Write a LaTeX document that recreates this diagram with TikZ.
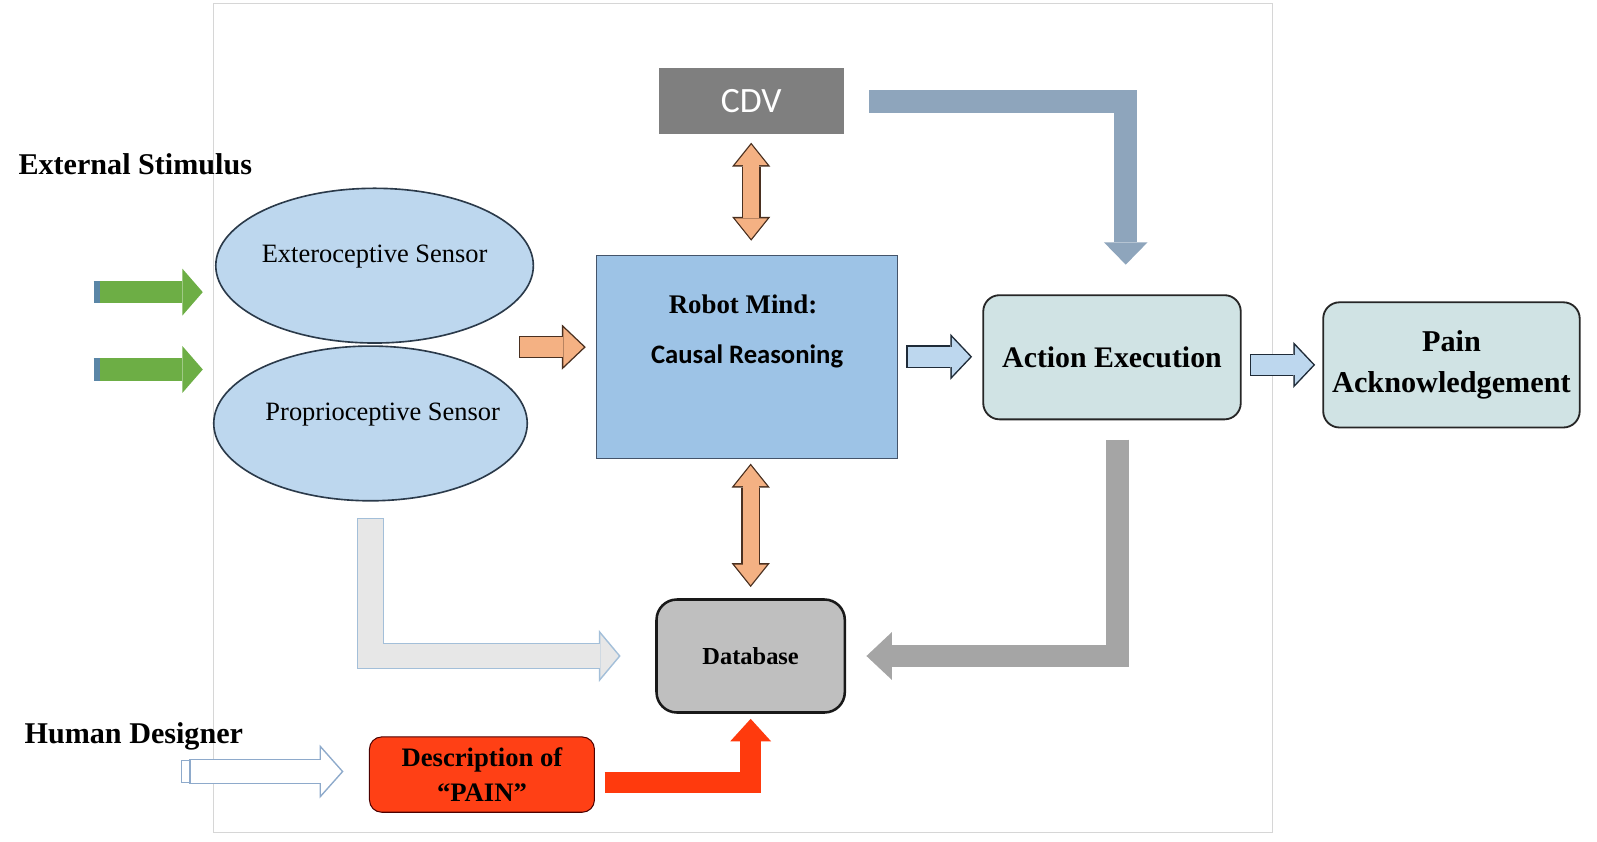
\documentclass[tikz,border=0pt]{standalone}
\usepackage{fontspec}
\setmainfont{Liberation Serif}
\newfontfamily\calibfont{Carlito}
\usetikzlibrary{arrows.meta, shapes.geometric}

\definecolor{sensorfill}{HTML}{BDD7EE}
\definecolor{sensorline}{HTML}{2B3A4A}
\definecolor{mindfill}{HTML}{9DC3E6}
\definecolor{mindline}{HTML}{44546A}
\definecolor{cdvfill}{HTML}{7F7F7F}
\definecolor{actfill}{HTML}{D0E3E4}
\definecolor{dbfill}{HTML}{BFBFBF}
\definecolor{descfill}{HTML}{FF4015}
\definecolor{stimgreen}{HTML}{6DAE45}
\definecolor{capblue}{HTML}{5A86A6}
\definecolor{orfill}{HTML}{F4B183}
\definecolor{orline}{HTML}{4A3020}
\definecolor{smallfill}{HTML}{BDD7EE}
\definecolor{smallline}{HTML}{1F2B38}
\definecolor{cdvarrow}{HTML}{8EA5BC}
\definecolor{grayarrow}{HTML}{A5A5A5}
\definecolor{lightfill}{HTML}{E7E7E7}
\definecolor{lightline}{HTML}{A3BFD9}
\definecolor{hollowline}{HTML}{8EAACB}
\definecolor{redarrow}{HTML}{FF3A0D}
\definecolor{framecol}{HTML}{D6D6D6}

\begin{document}
\begin{tikzpicture}[x=1pt, y=-1pt,
  sensor/.style={ellipse, draw=sensorline, line width=1.6pt, fill=sensorfill, inner sep=0pt},
  sensortext/.style={font=\fontsize{26}{30}\selectfont, inner sep=0pt},
  headtext/.style={font=\bfseries\fontsize{29.6}{34}\selectfont, inner sep=0pt, anchor=base west},
  titletext/.style={font=\bfseries\fontsize{26.4}{30}\selectfont, inner sep=0pt},
  mindbox/.style={rectangle, draw=mindline, line width=1pt, fill=mindfill, minimum width=296pt, minimum height=199pt, inner sep=0pt, font=\calibfont\bfseries\fontsize{26.2}{30}\selectfont},
  cdvbox/.style={rectangle, fill=cdvfill, minimum width=182pt, minimum height=65pt, inner sep=0pt, text=white, font=\calibfont\fontsize{35}{40}\selectfont},
  actbox/.style={rectangle, rounded corners=16pt, draw=black!85, line width=1.8pt, fill=actfill, minimum width=253pt, minimum height=122pt, inner sep=0pt, font=\bfseries\fontsize{29.3}{34}\selectfont},
  dbbox/.style={rectangle, rounded corners=20pt, draw=black!90, line width=2.5pt, fill=dbfill, minimum width=185pt, minimum height=111pt, inner sep=0pt, font=\bfseries\fontsize{24}{28}\selectfont},
  descbox/.style={rectangle, rounded corners=12pt, draw=black!70!red, line width=1pt, fill=descfill, minimum width=221pt, minimum height=74pt, inner sep=0pt, align=center, font=\bfseries\fontsize{26.2}{34}\selectfont},
  greenarr/.style={draw=stimgreen, line width=22pt, -{Triangle[length=20pt, width=46pt, line width=0pt]}},
  orout/.style={draw=orline, line width=22.4pt, -{Triangle[length=23.5pt, width=44.6pt, line width=0pt]}},
  orin/.style={draw=orfill, line width=20pt, -{Triangle[length=20pt, width=38pt, line width=0pt]}},
  dblout/.style={draw=orline, line width=18.4pt, {Triangle[length=23.5pt, width=37.6pt, line width=0pt]}-{Triangle[length=23.5pt, width=37.6pt, line width=0pt]}},
  dblin/.style={draw=orfill, line width=16pt, {Triangle[length=20pt, width=32pt, line width=0pt]}-{Triangle[length=20pt, width=32pt, line width=0pt]}},
  smallout/.style={draw=smallline, line width=22.4pt, -{Triangle[length=21.5pt, width=45.4pt, line width=0pt]}},
  smallin/.style={draw=smallfill, line width=20pt, -{Triangle[length=18pt, width=38pt, line width=0pt]}},
  lightout/.style={draw=lightline, line width=26.4pt, -{Triangle[length=21.5pt, width=51.4pt, line width=0pt]}},
  lightin/.style={draw=lightfill, line width=24pt, -{Triangle[length=18pt, width=43pt, line width=0pt]}},
  hollowout/.style={draw=hollowline, line width=24.4pt, -{Triangle[length=23.5pt, width=52.9pt, line width=0pt]}},
  hollowin/.style={draw=white, line width=22pt, -{Triangle[length=20pt, width=45pt, line width=0pt]}},
  cdvarr/.style={draw=cdvarrow, line width=23pt, -{Triangle[length=22pt, width=43pt, line width=0pt]}},
  grayarr/.style={draw=grayarrow, line width=22pt, -{Triangle[length=25pt, width=47pt, line width=0pt]}},
  redarr/.style={draw=redarrow, line width=21pt, -{Triangle[length=22pt, width=40pt, line width=0pt]}}]
\useasboundingbox (0,0) rectangle (1569,827);
\draw[framecol, line width=1pt] (210,3) rectangle (1250,818);

\node[sensor, minimum width=312pt, minimum height=152pt, label={[sensortext, yshift=9pt]center:Exteroceptive Sensor}] (ext) at (368,261) {};
\node[sensor, minimum width=308pt, minimum height=152pt, label={[sensortext, xshift=12pt, yshift=9pt]center:Proprioceptive Sensor}] (prop) at (364,416) {};
\node[mindbox] (mind) at (734,350.5) {Causal Reasoning};
\node[titletext] (mindtitle) at (730,299) {Robot Mind:};
\node[cdvbox] (cdv) at (738,99.5) {CDV};
\node[actbox] (act) at (1092.5,351) {Action Execution};
\node[actbox, minimum width=252pt, minimum height=123pt, align=center, font=\bfseries\fontsize{29.7}{40}\selectfont] (pain) at (1426,358.5) {Pain\\Acknowledgement};
\node[dbbox] (db) at (737.5,644.5) {Database};
\node[descbox] (desc) at (473.5,761) {Description of\\“PAIN”};
\node[headtext] (stim) at (18,171) {External Stimulus};
\node[headtext] (human) at (24,730) {Human Designer};

\foreach \y/\n in {287/1, 363/2} {
  \coordinate (gs\n) at (92,\y);
  \draw[greenarr, shorten >=12pt] (gs\n) -- (gs\n -| ext.west);
  \fill[capblue] ([yshift=11pt]gs\n) rectangle ([xshift=6pt, yshift=-11pt]gs\n);
}

\coordinate (os) at (510,341);
\draw[orout, shorten >=10pt] (os) -- (os -| mind.west);
\draw[orin, shorten <=1.2pt, shorten >=12pt] (os) -- (os -| mind.west);

\draw[dblout, shorten <=8pt, shorten >=14pt] (cdv.south) -- (cdv.south |- mind.north);
\draw[dblin, shorten <=10pt, shorten >=16pt] (cdv.south) -- (cdv.south |- mind.north);
\draw[dblout, shorten <=5pt, shorten >=11pt] (db.north |- mind.south) -- (db.north);
\draw[dblin, shorten <=7pt, shorten >=13pt] (db.north |- mind.south) -- (db.north);

\draw[smallout, shorten <=8pt, shorten >=10pt] (mind.east) -- (mind.east -| act.west);
\draw[smallin, shorten <=9.2pt, shorten >=12pt] (mind.east) -- (mind.east -| act.west);
\draw[smallout, shorten <=8pt, shorten >=7pt] (act.east |- pain.west) -- (pain.west);
\draw[smallin, shorten <=9.2pt, shorten >=9pt] (act.east |- pain.west) -- (pain.west);

\coordinate (cdvend) at (1106,260);
\draw[cdvarr, shorten <=25pt] (cdv.east) -| (cdvend);

\coordinate (gys) at (1098,432);
\draw[grayarr, shorten >=20pt] (gys) |- (db.east);

\draw[lightout, shorten <=16pt, shorten >=34pt] (prop.south) |- (db.west);
\draw[lightin, shorten <=17.2pt, shorten >=36pt] (prop.south) |- (db.west);

\coordinate (rds) at (594,768.5);
\draw[redarr, shorten >=5pt] (rds) -| (db.south);

\coordinate (hds) at (178,758);
\draw[hollowout, shorten <=8pt, shorten >=25pt] (hds) -- (hds -| desc.west);
\draw[hollowin, shorten <=9.2pt, shorten >=27pt] (hds) -- (hds -| desc.west);
\draw[hollowline, line width=1.2pt, fill=white] ([yshift=11pt]hds) rectangle ([xshift=8pt, yshift=-11pt]hds);
\end{tikzpicture}
\end{document}
